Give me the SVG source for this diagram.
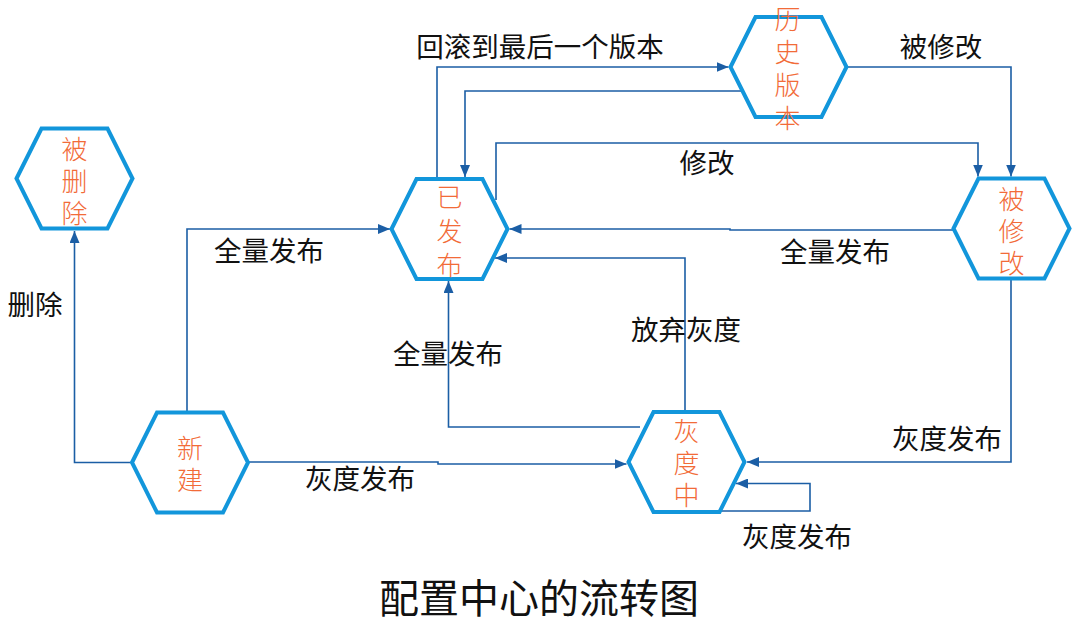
<svg xmlns="http://www.w3.org/2000/svg" xmlns:xlink="http://www.w3.org/1999/xlink" width="1080" height="625" viewBox="0 0 1080 625">
<style>
.hex{fill:#ffffff;stroke:#1296DB;stroke-width:4;stroke-linejoin:miter}
.nt{font-family:"Noto Sans CJK SC","Microsoft YaHei",sans-serif;font-size:26px;fill:#F26B38;text-anchor:middle;font-weight:300;writing-mode:vertical-rl;text-orientation:upright}
.lb{font-family:"Noto Sans CJK SC","Microsoft YaHei",sans-serif;font-size:27.5px;fill:#111111;text-anchor:middle;dominant-baseline:central}
.title{font-family:"Noto Sans CJK SC","Microsoft YaHei",sans-serif;font-size:40px;fill:#111111;text-anchor:middle;dominant-baseline:central}
.c{fill:none;stroke:#1B5EA5;stroke-width:1.6;marker-end:url(#arr)}
</style>
<defs>
<polygon id="hex" points="-58,0 -33,-50 33,-50 58,0 33,50 -33,50"/>
<marker id="arr" viewBox="0 0 12 10" refX="12" refY="5" markerWidth="12" markerHeight="10" markerUnits="userSpaceOnUse" orient="auto">
<path d="M0,0 L12,5 L0,10 z" fill="#1B5EA5"/>
</marker>
</defs>
<rect width="1080" height="625" fill="#ffffff"/>

<g id="connectors">
<path class="c" d="M133,462.5 H74.5 V231"/>
<path class="c" d="M187,412.5 V229 H390"/>
<path class="c" d="M248,462 H438 V464 H626.5"/>
<path class="c" d="M640,427 H448.5 V281"/>
<path class="c" d="M685,412 V258 H495"/>
<path class="c" d="M1011,279 V462 H747"/>
<path class="c" d="M683,511 H810 V483.5 H736"/>
<path class="c" d="M953,230 H730 V229 H509.5"/>
<path class="c" d="M496,200 V143 H978 V176.5"/>
<path class="c" d="M437,179 V67 H728.5"/>
<path class="c" d="M743,91 H465 V177"/>
<path class="c" d="M812,67 H1011 V176.5"/>
<text class="lb" x="35" y="303">删除</text>
<text class="lb" x="269" y="249">全量发布</text>
<text class="lb" x="360" y="477">灰度发布</text>
<text class="lb" x="448" y="352">全量发布</text>
<text class="lb" x="686" y="328">放弃灰度</text>
<text class="lb" x="947" y="437">灰度发布</text>
<text class="lb" x="797" y="535">灰度发布</text>
<text class="lb" x="835" y="250">全量发布</text>
<text class="lb" x="707" y="161">修改</text>
<text class="lb" x="540" y="45">回滚到最后一个版本</text>
<text class="lb" x="941" y="45">被修改</text>
</g>

<g id="node-deleted" transform="translate(74.5,178.5)">
<use xlink:href="#hex" class="hex"/>
<text class="nt" x="0" y="6" letter-spacing="6">被删除</text>
</g>

<g id="node-new" transform="translate(190,462.5)">
<use xlink:href="#hex" class="hex"/>
<text class="nt" x="0" y="5" letter-spacing="6">新建</text>
</g>

<g id="node-published" transform="translate(449.5,229)">
<use xlink:href="#hex" class="hex"/>
<text class="nt" x="0" y="6" letter-spacing="8">已发布</text>
</g>

<g id="node-history" transform="translate(788.5,67)">
<use xlink:href="#hex" class="hex"/>
<text class="nt" x="-1" y="5.5" letter-spacing="7">历史版本</text>
</g>

<g id="node-modified" transform="translate(1011.5,228.5)">
<use xlink:href="#hex" class="hex"/>
<text class="nt" x="0" y="6" letter-spacing="6">被修改</text>
</g>

<g id="node-gray" transform="translate(686.5,462)">
<use xlink:href="#hex" class="hex"/>
<text class="nt" x="0" y="4" letter-spacing="6">灰度中</text>
</g>

<text class="title" x="539" y="596">配置中心的流转图</text>
</svg>
